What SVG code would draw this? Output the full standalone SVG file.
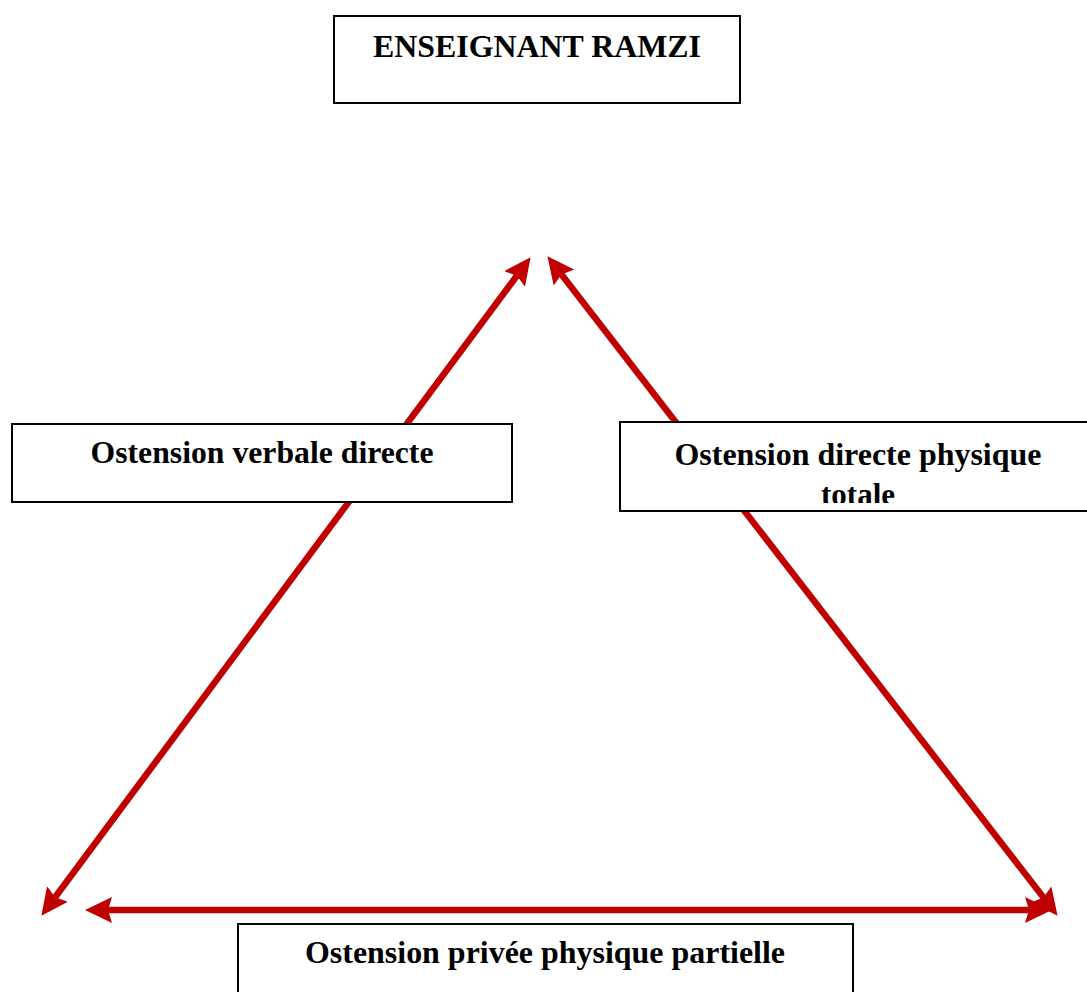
<svg xmlns="http://www.w3.org/2000/svg" width="1087" height="992" viewBox="0 0 1087 992">
<style>
.box{fill:#fff;stroke:#000;stroke-width:2}
.lbl{font-family:"Liberation Serif","Times New Roman",serif;font-weight:bold;font-size:31px;fill:#000;text-anchor:middle}
.arr{stroke:#C00000;stroke-width:6.5;fill:none;marker-start:url(#ah);marker-end:url(#ah)}
</style>
<defs>
<marker id="ah" markerUnits="userSpaceOnUse" viewBox="0 -16 32 32" markerWidth="32" markerHeight="32" refX="4" refY="0" orient="auto-start-reverse">
<path d="M0,-13 L27,0 L0,13 L4,0 z" fill="#C00000"/>
</marker>
<clipPath id="clipR"><rect x="620" y="422" width="470" height="81"/></clipPath>
</defs>
<g id="connectors">
<line class="arr" x1="55.1" y1="897.3" x2="516.9" y2="275.7"/>
<line class="arr" x1="561.5" y1="274.4" x2="1043.5" y2="897.6"/>
<line class="arr" x1="108" y1="910" x2="1029" y2="910"/>
</g>
<g id="node-enseignant">
<rect class="box" x="334" y="16" width="406" height="87"/>
<text class="lbl" x="537" y="57" textLength="328" lengthAdjust="spacingAndGlyphs">ENSEIGNANT RAMZI</text>
</g>
<g id="node-verbale">
<rect class="box" x="12" y="424" width="500" height="78"/>
<text class="lbl" x="262" y="463" textLength="343" lengthAdjust="spacingAndGlyphs">Ostension verbale directe</text>
</g>
<g id="node-physique-totale">
<rect class="box" x="620" y="422" width="480" height="89"/>
<text class="lbl" x="858" y="465" textLength="367" lengthAdjust="spacingAndGlyphs">Ostension directe physique</text>
<text class="lbl" x="858" y="505" clip-path="url(#clipR)">totale</text>
</g>
<g id="node-privee">
<rect class="box" x="238" y="924" width="615" height="80"/>
<text class="lbl" x="545" y="963" textLength="480" lengthAdjust="spacingAndGlyphs">Ostension privée physique partielle</text>
</g>
</svg>
